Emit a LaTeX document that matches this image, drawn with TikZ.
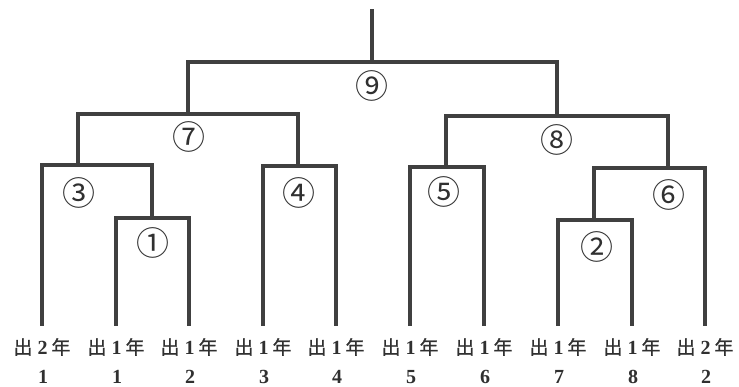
\documentclass[tikz,border=0pt]{standalone}
\usepackage{fontspec}
\setmainfont{Liberation Serif}
\newfontfamily\cjk{Noto Sans CJK JP}
\newfontfamily\cjkb[FakeBold=1.2]{Noto Sans CJK JP}
\definecolor{linec}{HTML}{404040}
\definecolor{txtc}{HTML}{303030}
\begin{document}
\begin{tikzpicture}[x=1pt,y=-1pt,
  br/.style={line width=4.6pt, draw=linec, line join=miter},
  circ/.style={font=\cjk\fontsize{33}{33}\selectfont, text=txtc, inner sep=0pt},
  lab/.style={font=\fontsize{20}{20}\selectfont\bfseries, text=txtc, inner sep=0pt, anchor=center},
  num/.style={font=\fontsize{20}{20}\selectfont\bfseries, text=txtc, inner sep=0pt, anchor=center}]
\useasboundingbox (0,0) rectangle (739,387);
% leaf bottoms
\coordinate (b1) at (42,326);
\coordinate (b2) at (116,326);
\coordinate (b3) at (189,326);
\coordinate (b4) at (263,326);
\coordinate (b5) at (336,326);
\coordinate (b6) at (410,326);
\coordinate (b7) at (484,326);
\coordinate (b8) at (558,326);
\coordinate (b9) at (632,326);
\coordinate (b10) at (705,326);
% match stems
\coordinate (m1) at (152,218);
\coordinate (m2) at (594,220);
\coordinate (m3) at (78,165);
\coordinate (m4) at (298,166);
\coordinate (m5) at (446,167);
\coordinate (m6) at (668,168);
\coordinate (m7) at (188,114);
\coordinate (m8) at (557,116);
\coordinate (m9) at (372,62);
\coordinate (top) at (372,9);
% bracket
\draw[br] (b2) |- (m1) -| (b3);
\draw[br] (b1) |- (m3) -| (m1);
\draw[br] (b4) |- (m4) -| (b5);
\draw[br] (m3) |- (m7) -| (m4);
\draw[br] (b6) |- (m5) -| (b7);
\draw[br] (b8) |- (m2) -| (b9);
\draw[br] (m2) |- (m6) -| (b10);
\draw[br] (m5) |- (m8) -| (m6);
\draw[br] (m7) |- (m9) -| (m8);
\draw[br] (m9) -- (top);
% match numbers
\node[circ] (c1) at (153,243) {①};
\node[circ] (c2) at (597,247) {②};
\node[circ] (c3) at (79,193) {③};
\node[circ] (c4) at (299,193) {④};
\node[circ] (c5) at (444,192) {⑤};
\node[circ] (c6) at (669,195) {⑥};
\node[circ] (c7) at (189,137) {⑦};
\node[circ] (c8) at (557,140) {⑧};
\node[circ] (c9) at (372,86) {⑨};
% leaf labels
\foreach \i/\x/\g/\n in {1/42/2/1, 2/116/1/1, 3/189/1/2, 4/263/1/3, 5/336/1/4, 6/410/1/5, 7/484/1/6, 8/558/1/7, 9/632/1/8, 10/705/2/2}{
  \node[lab] (lab\i) at (\x,347) {{\cjkb\mdseries\fontsize{19}{19}\selectfont 出}\hspace{5pt}\g\hspace{4pt}{\cjkb\mdseries\fontsize{19}{19}\selectfont 年}};
  \node[num] (num\i) at (\x+1,377) {\n};
}
\end{tikzpicture}
\end{document}
